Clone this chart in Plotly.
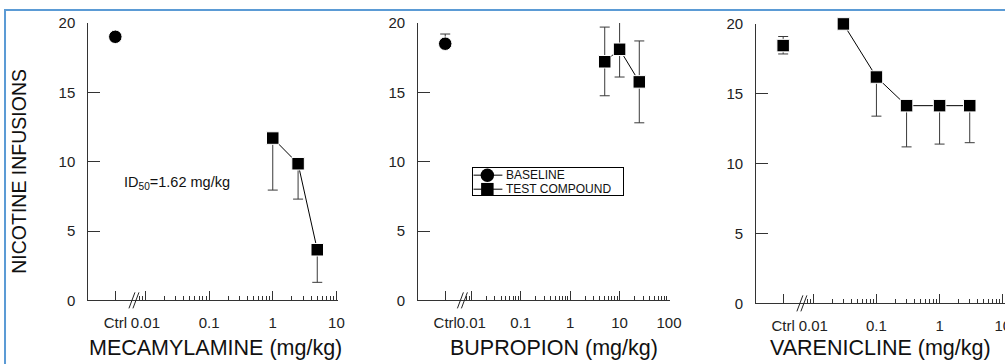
import plotly.graph_objects as go
import numpy as np

FONT = "Liberation Sans, Arial, sans-serif"

# ---------------- data ----------------
mec_ctrl_y = [19.0]
mec_ctrl_plus = [0.0]
mec_ctrl_minus = [0.0]
mec_dose = [1.0, 2.5, 5.0]
mec_y = [11.7, 9.85, 3.65]
mec_minus = [3.75, 2.55, 2.35]

bup_ctrl_y = [18.5]
bup_ctrl_plus = [0.7]
bup_ctrl_minus = [0.0]
bup_dose = [5.0, 10.0, 25.0]
bup_y = [17.2, 18.1, 15.75]
bup_plus = [2.5, 1.95, 2.95]
bup_minus = [2.45, 2.0, 2.95]

var_ctrl_y = [18.45]
var_ctrl_plus = [0.65]
var_ctrl_minus = [0.6]
var_dose = [0.03, 0.1, 0.3, 1.0, 3.0]
var_y = [20.0, 16.2, 14.15, 14.15, 14.15]
var_minus = [0.0, 2.8, 2.95, 2.75, 2.65]

x_titles = ["MECAMYLAMINE (mg/kg)", "BUPROPION (mg/kg)", "VARENICLINE (mg/kg)"]
y_title = "NICOTINE INFUSIONS"
y_ticks = [0, 5, 10, 15, 20]
legend_names = ["BASELINE", "TEST COMPOUND"]
legend_symbols = ["circle", "square"]
id50_text = "ID<sub>50</sub>=1.62 mg/kg"

# ---------------- page geometry ----------------
# target positions are given in picture pixels; a measured affine mapping
# (picture = S * page + B) converts them into figure pixels.
SX, BX, SY, BY = 0.9855, 2.0, 0.953, 9.1
W, H = 1020, 374


def px(x):
    return ((x - BX) / SX) / W


def py(y):
    return 1 - ((y - BY) / SY) / H


panels = [
    dict(x0=90, x1=339, dec=63.5, p001=147, pctrl=117, ybot=300, ytop=23, top=10),
    dict(x0=419, x1=670, dec=49.3, p001=472, pctrl=446, ybot=300, ytop=23, top=100),
    dict(x0=756, x1=1005, dec=63.0, p001=813, pctrl=783, ybot=303, ytop=24, top=10),
]
BREAK_LOG = -2.18

for p in panels:
    p["r0"] = -2 - (p["p001"] - p["x0"]) / p["dec"]
    p["r1"] = -2 + (p["x1"] - p["p001"]) / p["dec"]
    p["ctrl"] = 10 ** (-2 - (p["p001"] - p["pctrl"]) / p["dec"])

fig = go.Figure()
ERR_COL = "#3a3a3a"
SQ, CI = 12.5, 13.5


def add_panel(i, ctrl_y, ctrl_plus, ctrl_minus, ctrl_symbol, dose, y, plus, minus):
    p = panels[i]
    xa = "x" if i == 0 else f"x{i+1}"
    ya = "y" if i == 0 else f"y{i+1}"
    fig.add_trace(go.Scatter(
        x=[p["ctrl"]] * len(ctrl_y), y=ctrl_y, mode="markers", name="BASELINE",
        xaxis=xa, yaxis=ya, showlegend=False, cliponaxis=False,
        marker=dict(symbol=ctrl_symbol, size=CI if ctrl_symbol == "circle" else SQ,
                    color="black", line=dict(color="white", width=1)),
        error_y=dict(type="data", symmetric=False, array=ctrl_plus, arrayminus=ctrl_minus,
                     color=ERR_COL, thickness=1, width=5),
    ))
    fig.add_trace(go.Scatter(
        x=dose, y=y, mode="lines+markers", name="TEST COMPOUND",
        xaxis=xa, yaxis=ya, showlegend=False, cliponaxis=False,
        line=dict(color="black", width=1),
        marker=dict(symbol="square", size=SQ, color="black", line=dict(color="white", width=1)),
        error_y=dict(type="data", symmetric=False,
                     array=plus if plus is not None else [0] * len(y), arrayminus=minus,
                     color=ERR_COL, thickness=1, width=5),
    ))


add_panel(0, mec_ctrl_y, mec_ctrl_plus, mec_ctrl_minus, "circle", mec_dose, mec_y, None, mec_minus)
add_panel(1, bup_ctrl_y, bup_ctrl_plus, bup_ctrl_minus, "circle", bup_dose, bup_y, bup_plus, bup_minus)
add_panel(2, var_ctrl_y, var_ctrl_plus, var_ctrl_minus, "square", var_dose, var_y, None, var_minus)

shapes = []
for i, p in enumerate(panels):
    xk = "xaxis" if i == 0 else f"xaxis{i+1}"
    yk = "yaxis" if i == 0 else f"yaxis{i+1}"
    majors = [p["ctrl"], 0.01, 0.1, 1, 10] + ([100] if p["top"] >= 100 else [])
    labels = ["Ctrl", "0.01", "0.1", "1", "10"] + (["100"] if p["top"] >= 100 else [])
    minors = [0.008, 0.009]
    e = -2
    while 10 ** e < p["top"]:
        minors += [k * 10 ** e for k in range(2, 10)]
        e += 1
    axis_common = dict(showline=True, linecolor="#333", linewidth=1, showgrid=False, zeroline=False,
                       ticks="inside", tickcolor="#333", tickwidth=1,
                       tickfont=dict(family=FONT, size=15, color="#222"))
    fig.layout[xk] = dict(
        type="log", domain=[px(p["x0"]), min(px(p["x1"]), 1.0)], range=[p["r0"], p["r1"] + 1e-4],
        anchor="y" if i == 0 else f"y{i+1}",
        tickmode="array", tickvals=majors, ticktext=labels, ticklen=9, tickangle=0,
        ticklabelstandoff=9,
        minor=dict(tickmode="array", tickvals=minors, ticks="inside", ticklen=4.5,
                   tickcolor="#333", tickwidth=1),
        **axis_common)
    fig.layout[yk] = dict(
        domain=[py(p["ybot"]), py(p["ytop"])], range=[0, 20],
        anchor="x" if i == 0 else f"x{i+1}",
        tickmode="array", tickvals=y_ticks, ticklen=12, ticklabelstandoff=9,
        **axis_common)
    # axis break marks "//"
    bx = px(p["x0"] + (BREAK_LOG - p["r0"]) * p["dec"])
    by = py(p["ybot"])
    for off in (-2, 2):
        shapes.append(dict(type="line", xref="paper", yref="paper",
                           xsizemode="pixel", ysizemode="pixel", xanchor=bx, yanchor=by,
                           x0=off - 3, x1=off + 3, y0=-8, y1=8,
                           line=dict(color="#222", width=1)))

# ---------------- hand-built legend (inside panel 2) ----------------
LG = dict(x0=474, x1=623, y0=168, y1=195)
lw, lh = LG["x1"] - LG["x0"], LG["y1"] - LG["y0"]
row_y = [lh - 7, lh - 21]
fig.layout["xaxis4"] = dict(domain=[px(LG["x0"]), px(LG["x1"])], range=[0, lw], anchor="y4",
                            showline=True, mirror=True, linecolor="black", linewidth=1,
                            showgrid=False, zeroline=False, showticklabels=False, ticks="")
fig.layout["yaxis4"] = dict(domain=[py(LG["y1"]), py(LG["y0"])], range=[0, lh],
                            anchor="x4", showline=True, mirror=True, linecolor="black",
                            linewidth=1, showgrid=False, zeroline=False,
                            showticklabels=False, ticks="")
annotations = []
for name, sym, ry in zip(legend_names, legend_symbols, row_y):
    fig.add_trace(go.Scatter(x=[0, 14, 29], y=[ry] * 3, mode="lines", xaxis="x4", yaxis="y4",
                             line=dict(color="black", width=1), showlegend=False,
                             hoverinfo="skip", cliponaxis=False))
    fig.add_trace(go.Scatter(x=[14], y=[ry], mode="markers", xaxis="x4", yaxis="y4",
                             marker=dict(symbol=sym, size=CI if sym == "circle" else SQ,
                                         color="black"),
                             showlegend=False, hoverinfo="skip", cliponaxis=False))
    annotations.append(dict(text=name, x=31, y=ry, xref="x4", yref="y4", xanchor="left",
                            yanchor="middle", showarrow=False,
                            font=dict(family=FONT, size=12, color="#111")))

# light blue frame (top and left edges visible)
shapes.append(dict(type="rect", xref="paper", yref="paper", x0=px(7), x1=1.3, y0=-0.3, y1=py(10),
                   line=dict(color="#5b9bd5", width=2), fillcolor="rgba(0,0,0,0)"))

xt_centers = [217, 554, 880]
for c, t in zip(xt_centers, x_titles):
    annotations.append(dict(text=t, x=px(c), y=py(348), xref="paper", yref="paper",
                            xanchor="center", yanchor="middle", showarrow=False,
                            font=dict(family=FONT, size=21.5, color="#111")))
annotations.append(dict(text=y_title, x=px(21), y=py(171.5), xref="paper", yref="paper",
                        xanchor="center", yanchor="middle", showarrow=False, textangle=-90,
                        font=dict(family=FONT, size=19.5, color="#111")))
annotations.append(dict(text=id50_text, x=px(124), y=py(183),
                        xref="paper", yref="paper", xanchor="left", yanchor="middle",
                        showarrow=False, font=dict(family=FONT, size=14.5, color="#111")))

fig.update_layout(
    width=W, height=H, margin=dict(l=0, r=0, t=0, b=0),
    paper_bgcolor="white", plot_bgcolor="rgba(0,0,0,0)",
    font=dict(family=FONT, color="#111"),
    shapes=shapes, annotations=annotations, showlegend=False,
)

fig.write_html("out.html", config={"displayModeBar": False},
               post_script="document.body.style.margin='0px';")
